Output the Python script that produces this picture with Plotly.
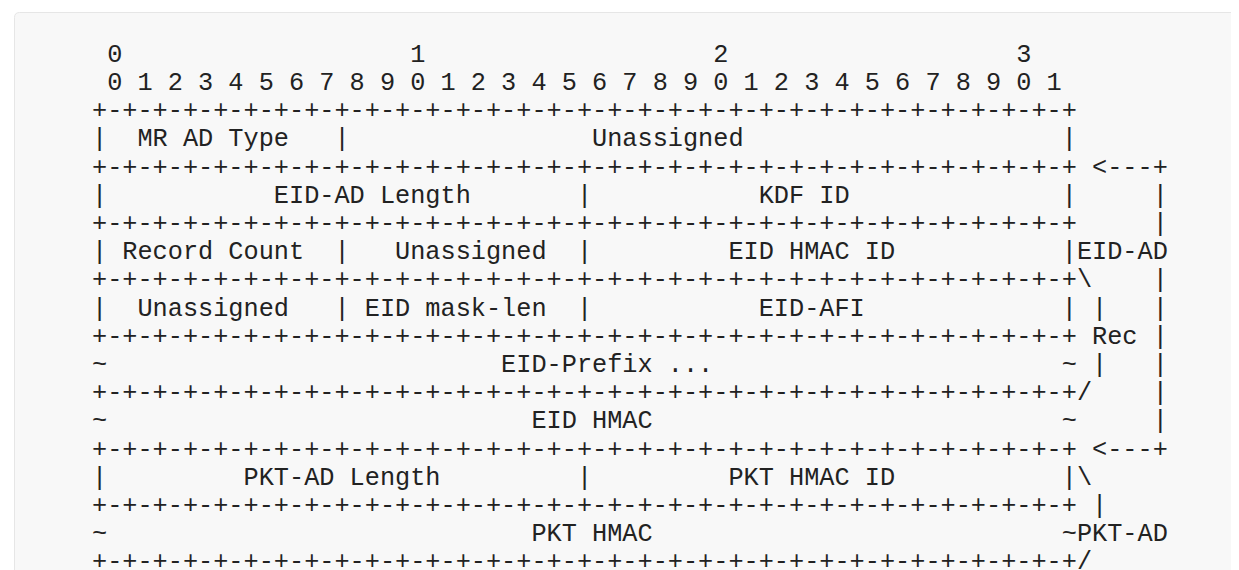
import plotly.graph_objects as go

# ---- content of the diagram (text lines, monospace columns) ----
PLUS = "+-" * 32 + "+"
ruler_tens = " 0" + " " * 19 + "1" + " " * 19 + "2" + " " * 19 + "3"
ruler_ones = " " + " ".join("01234567890123456789012345678901")

lines = [
    ruler_tens,
    ruler_ones,
    PLUS,
    "|  MR AD Type   |" + " " * 16 + "Unassigned" + " " * 21 + "|",
    PLUS + " <---+",
    "|" + " " * 11 + "EID-AD Length" + " " * 7 + "|" + " " * 11 + "KDF ID" + " " * 14 + "|" + " " * 5 + "|",
    PLUS + " " * 5 + "|",
    "| Record Count  |" + "   Unassigned  |" + " " * 9 + "EID HMAC ID" + " " * 11 + "|EID-AD",
    PLUS + "\\" + " " * 4 + "|",
    "|  Unassigned   |" + " EID mask-len  |" + " " * 11 + "EID-AFI" + " " * 13 + "| |   |",
    PLUS + " Rec |",
    "~" + " " * 26 + "EID-Prefix ..." + " " * 23 + "~ |   |",
    PLUS + "/" + " " * 4 + "|",
    "~" + " " * 28 + "EID HMAC" + " " * 27 + "~     |",
    PLUS + " <---+",
    "|" + " " * 9 + "PKT-AD Length" + " " * 9 + "|" + " " * 9 + "PKT HMAC ID" + " " * 11 + "|\\",
    PLUS + " |",
    "~" + " " * 28 + "PKT HMAC" + " " * 27 + "~PKT-AD",
    PLUS + "/",
]

W, H = 1239, 570
FONT = "Liberation Mono"
FONT_SIZE = 25.25
LEFT = 83.5
TOP = 47.3
STEP = 28.2

fig = go.Figure()

def esc(s):
    s = s.replace("&", "&amp;").replace("<", "&lt;").replace(">", "&gt;")
    return s.replace(" ", "\u00a0")

annotations = []
for i, ln in enumerate(lines):
    annotations.append(dict(
        x=LEFT, y=TOP + STEP * i, xref="x", yref="y",
        text=esc(ln), showarrow=False, xanchor="left", yanchor="middle",
        align="left", borderpad=0, borderwidth=0,
        font=dict(family=FONT, size=FONT_SIZE, color="#222222"),
    ))

# rounded background panel
x0, y0, x1, y1, r = 6.5, 4.5, 1237.5, 569.5, 5
path = (f"M {x0+r},{y0} L {x1-r},{y0} Q {x1},{y0} {x1},{y0+r} "
        f"L {x1},{y1-r} Q {x1},{y1} {x1-r},{y1} L {x0+r},{y1} "
        f"Q {x0},{y1} {x0},{y1-r} L {x0},{y0+r} Q {x0},{y0} {x0+r},{y0} Z")

fig.update_layout(
    width=W, height=H,
    margin=dict(l=0, r=0, t=0, b=0),
    paper_bgcolor="white", plot_bgcolor="white",
    xaxis=dict(range=[0, W], visible=False, fixedrange=True),
    yaxis=dict(range=[H, 0], visible=False, fixedrange=True),
    showlegend=False,
    annotations=annotations,
    shapes=[dict(type="path", path=path, xref="x", yref="y",
                 fillcolor="#f8f8f8", line=dict(color="#e6e6e6", width=1),
                 layer="below")],
)

fig.write_html("out.html")
